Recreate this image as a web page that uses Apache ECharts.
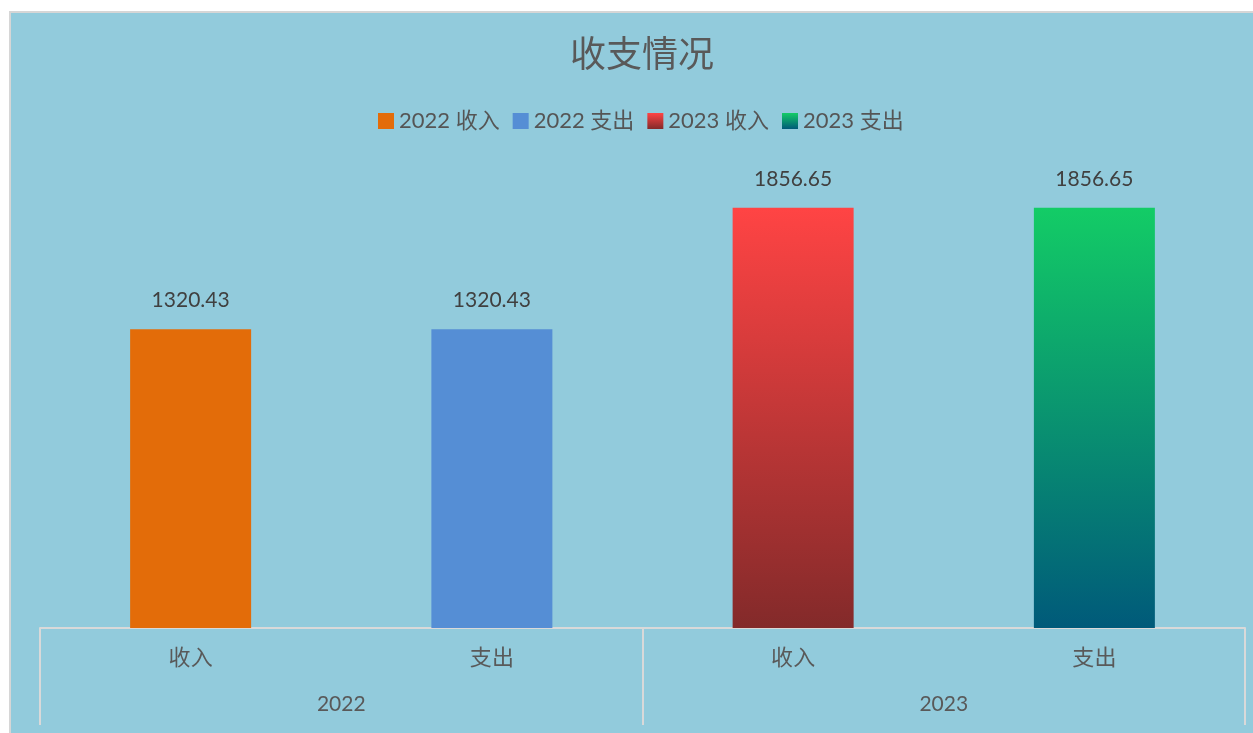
<!DOCTYPE html>
<html>
<head>
<meta charset="utf-8">
<title>收支情况</title>
<script src="https://cdn.jsdelivr.net/npm/echarts@6/dist/echarts.min.js"></script>
<style>
  html, body { margin: 0; padding: 0; background: #fff; }
  #chart { width: 1253px; height: 733px; }
</style>
</head>
<body>
<div id="chart"></div>
<script>
// 数据
const subCategories = ['收入', '支出', '收入', '支出']
const yearCategories = ['2022', '2023']
const seriesNames = ['2022 收入', '2022 支出', '2023 收入', '2023 支出']
const income2022 = [1320.43, null, null, null]
const expense2022 = [null, 1320.43, null, null]
const income2023 = [null, null, 1856.65, null]
const expense2023 = [null, null, null, 1856.65]

const cnFont = '"Noto Sans CJK SC", sans-serif'
const numFont = 'Lato, "Noto Sans CJK SC", sans-serif'

function grad(top, bottom) {
  return new echarts.graphic.LinearGradient(0, 0, 0, 1, [
    { offset: 0, color: top },
    { offset: 1, color: bottom }
  ])
}

const colors = [
  '#E36C09',
  '#558ED5',
  grad('#FF4444', '#832A2A'),
  grad('#13CC66', '#005A7A')
]
const seriesData = [income2022, expense2022, income2023, expense2023]

const myChart = echarts.init(document.getElementById('chart'))

const option = {
  backgroundColor: '#fff',
  animation: false,
  graphic: [{
    type: 'rect',
    z: -10,
    silent: true,
    shape: { x: 10, y: 12, width: 1262, height: 740 },
    style: { fill: '#92CBDC', stroke: '#D6D6D6', lineWidth: 2 }
  }],
  title: {
    text: '收支情况',
    left: 565,
    top: 30,
    textStyle: { fontFamily: cnFont, fontSize: 36, fontWeight: 'normal', color: '#595959' }
  },
  legend: {
    data: seriesNames,
    top: 105,
    left: 373,
    itemWidth: 16,
    itemHeight: 16,
    itemGap: 13,
    icon: 'rect',
    textStyle: { fontFamily: numFont, fontSize: 22, color: '#555' }
  },
  grid: {
    left: 40,
    right: 8,
    top: 175.4,
    bottom: 105,
    containLabel: false
  },
  xAxis: [
    {
      type: 'category',
      data: subCategories,
      position: 'bottom',
      axisLine: { show: true, lineStyle: { color: '#D9D9D9', width: 2 } },
      axisTick: { show: false },
      axisLabel: {
        margin: 18,
        fontFamily: cnFont,
        fontSize: 22,
        color: '#595959'
      }
    },
    {
      type: 'category',
      data: yearCategories,
      position: 'bottom',
      axisLine: { show: false },
      axisTick: {
        show: true,
        inside: false,
        length: 97,
        lineStyle: { color: '#D9D9D9', width: 2 }
      },
      axisLabel: {
        margin: 66,
        fontFamily: numFont,
        fontSize: 21,
        color: '#595959'
      }
    }
  ],
  yAxis: {
    type: 'value',
    min: 0,
    max: 2000,
    show: false,
    splitLine: { show: false }
  },
  series: seriesNames.map((name, i) => ({
    name: name,
    type: 'bar',
    stack: 'total',
    xAxisIndex: 0,
    barWidth: 121,
    data: seriesData[i],
    itemStyle: { color: colors[i] },
    label: {
      show: true,
      position: 'top',
      distance: 18,
      fontFamily: numFont,
      fontSize: 21,
      color: '#404040',
      formatter: (p) => p.value.toFixed(2)
    }
  }))
}

myChart.setOption(option)
</script>
</body>
</html>
